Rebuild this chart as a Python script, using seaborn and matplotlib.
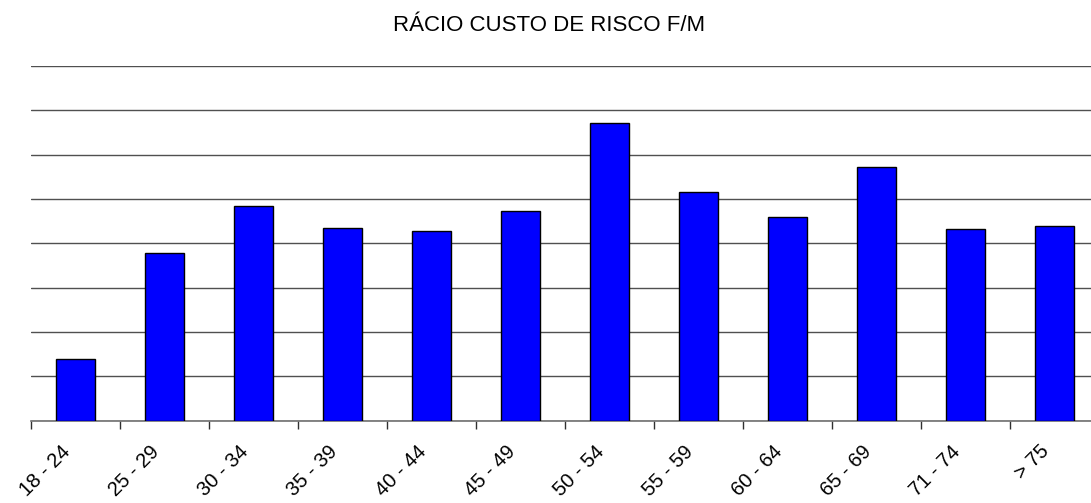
import numpy as np
import pandas as pd
import matplotlib
matplotlib.use('Agg')
import matplotlib.pyplot as plt
import matplotlib.transforms as mtransforms
import seaborn as sns

# age bands and F/M cost-of-risk ratio (no axis labels shown)
age_bands = ['18 - 24', '25 - 29', '30 - 34', '35 - 39', '40 - 44', '45 - 49',
             '50 - 54', '55 - 59', '60 - 64', '65 - 69', '71 - 74', '> 75']
ratio = [0.346, 0.948, 1.21, 1.085, 1.07, 1.18,
         1.68, 1.29, 1.15, 1.43, 1.08, 1.10]
y_grid = [0, 0.25, 0.5, 0.75, 1.0, 1.25, 1.5, 1.75, 2.0]

df = pd.DataFrame({'Faixa': age_bands, 'Racio': ratio})

sns.set_style('white')
plt.rcParams['font.family'] = ['Liberation Sans', 'DejaVu Sans']
plt.rcParams['text.color'] = 'black'

fig = plt.figure(figsize=(10.91, 5.03), dpi=100)
ax = fig.add_axes([0.0284, 0.1636, 0.979, 0.7052])

sns.barplot(data=df, x='Faixa', y='Racio', color='#0000FF', width=0.43,
            edgecolor='black', linewidth=1.0, saturation=1, ax=ax, zorder=3)

ax.set_ylim(0, 2.0)
ax.set_xlim(-0.5, len(age_bands) - 0.5)
ax.set_yticks(y_grid)
ax.yaxis.grid(True, color='#505050', linewidth=1.0, zorder=0)
ax.tick_params(axis='y', left=False, labelleft=False)
ax.set_xlabel('')
ax.set_ylabel('')

for side in ['top', 'right', 'left']:
    ax.spines[side].set_visible(False)
ax.spines['bottom'].set_color('#707070')
ax.spines['bottom'].set_linewidth(1.2)

# ticks between categories, labels at centres
ax.set_xticks(range(len(age_bands)))
ax.set_xticks(np.arange(len(age_bands) + 1) - 0.5, minor=True)
ax.tick_params(axis='x', which='minor', bottom=True, length=6, color='#303030',
               width=1, direction='out')
ax.tick_params(axis='x', which='major', bottom=False, length=0, pad=20,
               labelsize=14.5, labelcolor='black')
ax.set_xticklabels(age_bands, rotation=45, ha='right', va='center', rotation_mode='anchor')
shift = mtransforms.ScaledTranslation(-8 / 100, 0, fig.dpi_scale_trans)
for lbl in ax.get_xticklabels():
    lbl.set_transform(lbl.get_transform() + shift)

fig.text(0.503, 0.938, 'RÁCIO CUSTO DE RISCO F/M', ha='center', va='baseline',
         fontsize=16, color='black')

fig.savefig('out.png', dpi=100)
